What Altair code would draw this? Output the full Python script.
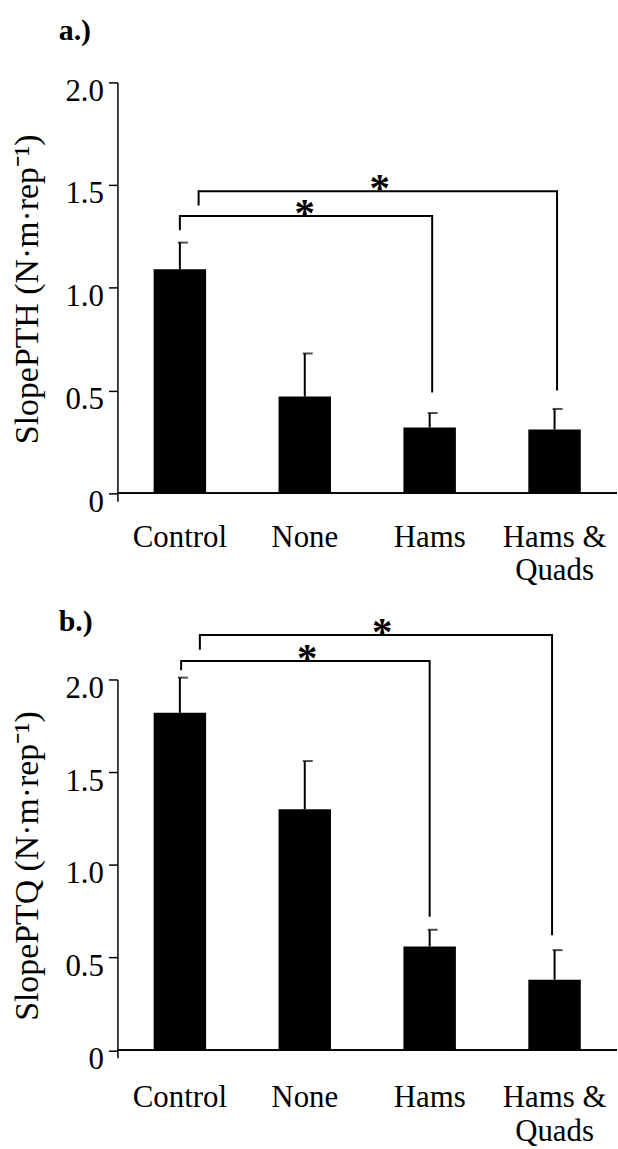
import altair as alt
import pandas as pd

# Groups on the x axis
groups = ["Control", "None", "Hams", "Hams & Quads"]

# Panel a: SlopePTH, mean and SD
pth_mean = [1.09, 0.47, 0.32, 0.31]
pth_sd = [0.13, 0.21, 0.07, 0.10]

# Panel b: SlopePTQ, mean and SD
ptq_mean = [1.82, 1.30, 0.56, 0.38]
ptq_sd = [0.19, 0.26, 0.09, 0.16]

# Significance brackets (x in group units: group i is centred at i + 0.5)
pth_br_left = [0.50, 0.65]
pth_br_right = [2.52, 3.52]
pth_br_top = [1.35, 1.47]
pth_br_left_end = [1.28, 1.40]
pth_br_right_end = [0.49, 0.50]
pth_star_x = [1.50, 2.10]

ptq_br_left = [0.51, 0.66]
ptq_br_right = [2.50, 3.48]
ptq_br_top = [2.10, 2.24]
ptq_br_left_end = [2.05, 2.16]
ptq_br_right_end = [0.72, 0.62]
ptq_star_x = [1.52, 2.12]

y_ticks = [0, 0.5, 1.0, 1.5, 2.0]

FONT = "Liberation Serif"
W = 502


def panel(tag, title, means, sds, bl, br, btop, bl_end, br_end, star_x,
          height, tag_y, x_label_pad):
    bars_df = pd.DataFrame({"group": groups, "mean": means,
                            "top": [m + s for m, s in zip(means, sds)]})
    rows = []
    for i in range(len(bl)):
        pts = [(bl[i], bl_end[i]), (bl[i], btop[i]), (br[i], btop[i]), (br[i], br_end[i])]
        for k, (px, py) in enumerate(pts):
            rows.append({"b": i, "k": k, "px": px, "py": py})
    br_df = pd.DataFrame(rows)
    star_df = pd.DataFrame({"sx": star_x, "sy": btop, "s": ["*"] * len(star_x)})

    yscale = alt.Scale(domain=[-0.04, 2.0], nice=False, zero=False)
    yaxis = alt.Axis(
        values=y_ticks, grid=False,
        labelExpr="datum.value == 0 ? '0' : format(datum.value, '.1f')",
        labelFont=FONT, labelFontSize=31, labelColor="black",
        labelPadding=5, labelOffset=9, labelBaseline="middle",
        tickSize=9, tickWidth=1.5, tickColor="black",
        domainColor="black", domainWidth=1.5,
        title=title, titleFont=FONT, titleFontSize=34, titleFontWeight="normal",
        titleColor="black", titleAngle=270, titleX=-80, titleY=height / 2 - 3,
        titleAlign="center", titleBaseline="alphabetic",
    )
    xenc = alt.X(
        "group:N", sort=groups, title=None,
        scale=alt.Scale(paddingInner=0.58, paddingOuter=0.29),
        axis=alt.Axis(
            domain=False, ticks=False, labelAngle=0, labelOverlap=False,
            labelFont=FONT, labelFontSize=31, labelColor="black",
            labelBaseline="alphabetic", labelPadding=x_label_pad, labelLineHeight=34,
            labelExpr="split(replace(datum.label, '& ', '&|'), '|')",
        ),
    )
    base = alt.Chart(bars_df)
    bars = base.mark_bar(color="black").encode(
        x=xenc, y=alt.Y("mean:Q", scale=yscale, axis=yaxis)
    )
    err = base.mark_rule(color="black", strokeWidth=2).encode(
        x=alt.X("group:N", sort=groups), y="mean:Q", y2="top:Q"
    )
    cap = base.mark_tick(color="black", size=10, thickness=2, xOffset=3).encode(
        x=alt.X("group:N", sort=groups), y="top:Q"
    )
    zero = base.mark_rule(color="black", strokeWidth=1.5).encode(
        y=alt.datum(0), x=alt.value(0), x2=alt.value(W)
    )
    group_layer = alt.layer(bars, err, cap, zero)

    qx = alt.Scale(domain=[0, 4], nice=False, zero=False)
    lines = alt.Chart(br_df).mark_line(color="black", strokeWidth=2, interpolate="linear").encode(
        x=alt.X("px:Q", scale=qx, axis=None),
        y=alt.Y("py:Q", scale=yscale),
        detail="b:N", order="k:Q",
    )
    stars = alt.Chart(star_df).mark_text(
        font=FONT, fontSize=41, fontWeight="bold", color="black",
        baseline="alphabetic", dy=10,
    ).encode(
        x=alt.X("sx:Q", scale=qx, axis=None),
        y=alt.Y("sy:Q", scale=yscale),
        text="s:N",
    )
    label = alt.Chart(pd.DataFrame({"t": [tag]})).mark_text(
        font=FONT, fontSize=30, fontWeight="bold", color="black",
        align="left", baseline="alphabetic",
    ).encode(x=alt.value(-59), y=alt.value(tag_y), text="t:N")
    note_layer = alt.layer(lines, stars, label)

    return alt.layer(group_layer, note_layer).resolve_scale(
        x="independent"
    ).properties(width=W, height=height)


pa = panel("a.)", "SlopePTH (N·m·rep⁻¹)", pth_mean, pth_sd, pth_br_left, pth_br_right,
           pth_br_top, pth_br_left_end, pth_br_right_end, pth_star_x, 421, -43, 45)
pb = panel("b.)", "SlopePTQ (N·m·rep⁻¹)", ptq_mean, ptq_sd, ptq_br_left, ptq_br_right,
           ptq_br_top, ptq_br_left_end, ptq_br_right_end, ptq_star_x, 380, -49, 49)

chart = alt.vconcat(pa, pb, spacing=179, bounds="flush").properties(
    padding={"left": 11, "top": 13, "right": 0, "bottom": 0}
).configure_view(stroke=None)

chart.save("out.html", embed_options={"renderer": "svg", "actions": False})
